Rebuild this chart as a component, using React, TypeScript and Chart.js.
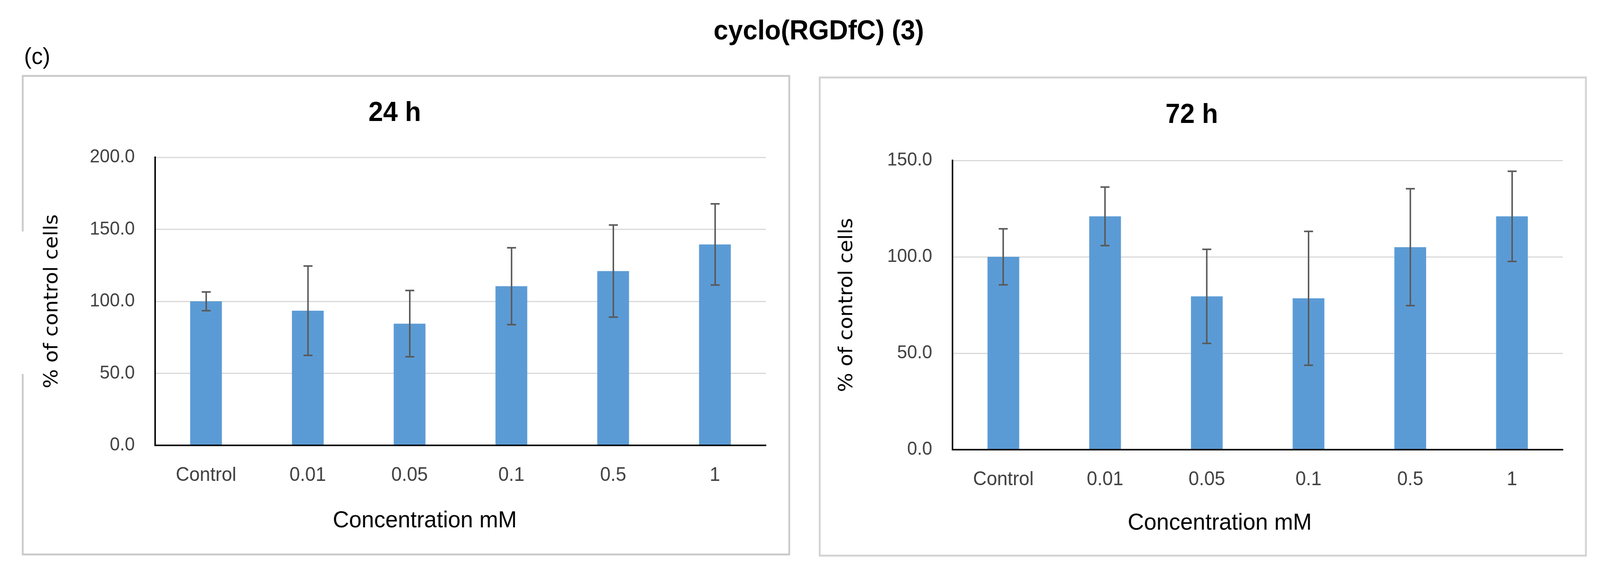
import React, { useEffect, useRef } from 'react';
import { Chart, registerables } from 'chart.js';

Chart.register(...registerables);

// ---- data ----
const categories = ['Control', '0.01', '0.05', '0.1', '0.5', '1'];
const values24h = [100, 93.5, 84.5, 110.5, 121, 139.5];
const errors24h = [6.5, 31, 23, 26.7, 32, 28.2];
const values72h = [100, 121, 79.5, 78.5, 105, 121];
const errors72h = [14.5, 15.2, 24.4, 34.7, 30.3, 23.4];
const yRange24h = [0, 200];
const yRange72h = [0, 150];
const yStep = 50;
const mainTitle = 'cyclo(RGDfC) (3)';
const panelLabel = '(c)';
const panelTitles = ['24 h', '72 h'];
const xAxisTitle = 'Concentration mM';
const yAxisTitle = '% of control cells';

const BAR_COLOR = '#5B9BD5';
const ERR_COLOR = '#595959';
const TICK_COLOR = '#404040';
const GRID_COLOR = '#d9d9d9';
const DESIGN_W = 4260;
const DESIGN_H = 1468;

Chart.defaults.font.family = "'Liberation Sans', Arial, sans-serif";

const errorBarPlugin = {
  id: 'errorBars',
  afterDatasetsDraw(chart: any, _args: any, opts: any) {
    const errs: number[] = opts.errors || [];
    const ctx = chart.ctx;
    const meta = chart.getDatasetMeta(0);
    const y = chart.scales.y;
    const vals = chart.data.datasets[0].data as number[];
    ctx.save();
    ctx.strokeStyle = opts.color;
    ctx.lineWidth = opts.lineWidth;
    const cap = opts.capHalf;
    meta.data.forEach((bar: any, i: number) => {
      const v = vals[i];
      const e = errs[i];
      const x = Math.round(bar.x);
      const yTop = y.getPixelForValue(v + e);
      const yBot = y.getPixelForValue(v - e);
      ctx.beginPath();
      ctx.moveTo(x, yTop);
      ctx.lineTo(x, yBot);
      ctx.moveTo(x - cap, yTop);
      ctx.lineTo(x + cap, yTop);
      ctx.moveTo(x - cap, yBot);
      ctx.lineTo(x + cap, yBot);
      ctx.stroke();
    });
    ctx.restore();
  },
};

// draws the x-axis title (offset from the plot centre, as in the source figure)
const xTitlePlugin = {
  id: 'xTitle',
  afterDraw(chart: any, _args: any, opts: any) {
    const ctx = chart.ctx;
    const area = chart.chartArea;
    ctx.save();
    ctx.fillStyle = '#000';
    ctx.font = `${opts.size}px 'Liberation Sans', Arial, sans-serif`;
    ctx.textAlign = 'center';
    ctx.textBaseline = 'middle';
    ctx.fillText(opts.text, (area.left + area.right) / 2 + opts.dx, opts.y);
    ctx.restore();
  },
};

type PanelProps = {
  title: string;
  values: number[];
  errors: number[];
  yRange: number[];
  width: number;
  height: number;
  yScaleWidth: number;
  padRight: number;
  titlePadTop: number;
  titlePadBottom: number;
  xScaleHeight: number;
  yTitlePad: number;
  xTitleDx: number;
  xTitleY: number;
};

function Panel(p: PanelProps) {
  const ref = useRef<HTMLCanvasElement | null>(null);
  useEffect(() => {
    if (!ref.current) return;
    const chart = new Chart(ref.current, {
      type: 'bar',
      data: {
        labels: categories,
        datasets: [
          {
            data: p.values,
            backgroundColor: BAR_COLOR,
            borderWidth: 0,
            barPercentage: 0.312,
            categoryPercentage: 1,
          },
        ],
      },
      plugins: [errorBarPlugin, xTitlePlugin],
      options: {
        animation: false,
        responsive: false,
        devicePixelRatio: 1,
        layout: { padding: { left: 0, right: p.padRight, top: 0, bottom: 0 } },
        plugins: {
          legend: { display: false },
          tooltip: { enabled: false },
          title: {
            display: true,
            text: p.title,
            color: '#000',
            font: { size: 70, weight: 'bold' },
            padding: { top: p.titlePadTop, bottom: p.titlePadBottom },
          },
          errorBars: { errors: p.errors, color: ERR_COLOR, lineWidth: 4, capHalf: 12 },
          xTitle: { text: xAxisTitle, size: 60, dx: p.xTitleDx, y: p.xTitleY },
        } as any,
        scales: {
          x: {
            grid: { display: false, drawTicks: false },
            border: { display: true, color: '#000', width: 4, z: 1 },
            ticks: { color: TICK_COLOR, font: { size: 50 }, padding: 47 },
            title: { display: false },
            afterFit: (s: any) => {
              s.height = p.xScaleHeight;
            },
          },
          y: {
            min: p.yRange[0],
            max: p.yRange[1],
            grid: { color: GRID_COLOR, lineWidth: 3, drawTicks: false },
            border: { display: true, color: '#000', width: 4, z: 1 },
            ticks: {
              stepSize: yStep,
              color: TICK_COLOR,
              font: { size: 48 },
              padding: 54,
              callback: (v: any) => Number(v).toFixed(1),
            },
            title: {
              display: true,
              text: yAxisTitle,
              color: '#000',
              font: { size: 52, family: "'DejaVu Sans', sans-serif" },
              padding: { top: p.yTitlePad, bottom: 0 },
            },
            afterFit: (s: any) => {
              s.width = p.yScaleWidth;
            },
          },
        },
      } as any,
    });
    return () => chart.destroy();
  }, []);
  return <canvas ref={ref} width={p.width} height={p.height} style={{ display: 'block' }} />;
}

export default function App() {
  const vw = typeof window !== 'undefined' ? window.innerWidth : DESIGN_W;
  const kx = Math.min(1, vw / DESIGN_W);
  return (
    <div
      style={{
        position: 'fixed',
        left: 0,
        top: 0,
        width: DESIGN_W,
        height: DESIGN_H,
        background: '#fff',
        overflow: 'hidden',
        transform: `scaleX(${kx})`,
        transformOrigin: '0 0',
        fontFamily: "'Liberation Sans', Arial, sans-serif",
      }}
    >
      <div
        style={{
          position: 'absolute',
          left: 2180,
          top: 77,
          transform: 'translate(-50%, -50%)',
          fontSize: 70,
          fontWeight: 'bold',
          lineHeight: 1,
          whiteSpace: 'nowrap',
          color: '#000',
        }}
      >
        {mainTitle}
      </div>
      <div
        style={{
          position: 'absolute',
          left: 64,
          top: 144,
          transform: 'translateY(-50%)',
          fontSize: 60,
          lineHeight: 1,
          color: '#000',
        }}
      >
        {panelLabel}
      </div>
      <div
        style={{
          position: 'absolute',
          left: 58,
          top: 192,
          width: 2036,
          height: 1221,
          border: '5px solid #cccccc',
        }}
      >
        <Panel
          title={panelTitles[0]}
          values={values24h}
          errors={errors24h}
          yRange={yRange24h}
          width={2036}
          height={1221}
          yScaleWidth={350}
          padRight={60}
          titlePadTop={52}
          titlePadBottom={70}
          xScaleHeight={277}
          yTitlePad={45}
          xTitleDx={-95}
          xTitleY={1137}
        />
      </div>
      <div style={{ position: 'absolute', left: 57, top: 593, width: 7, height: 365, background: '#fff' }} />
      <div
        style={{
          position: 'absolute',
          left: 2180,
          top: 196,
          width: 2035,
          height: 1220,
          border: '5px solid #d4d4d4',
        }}
      >
        <Panel
          title={panelTitles[1]}
          values={values72h}
          errors={errors72h}
          yRange={yRange72h}
          width={2035}
          height={1220}
          yScaleWidth={351}
          padRight={59}
          titlePadTop={53}
          titlePadBottom={73}
          xScaleHeight={269}
          yTitlePad={39}
          xTitleDx={-101}
          xTitleY={1139}
        />
      </div>
    </div>
  );
}
